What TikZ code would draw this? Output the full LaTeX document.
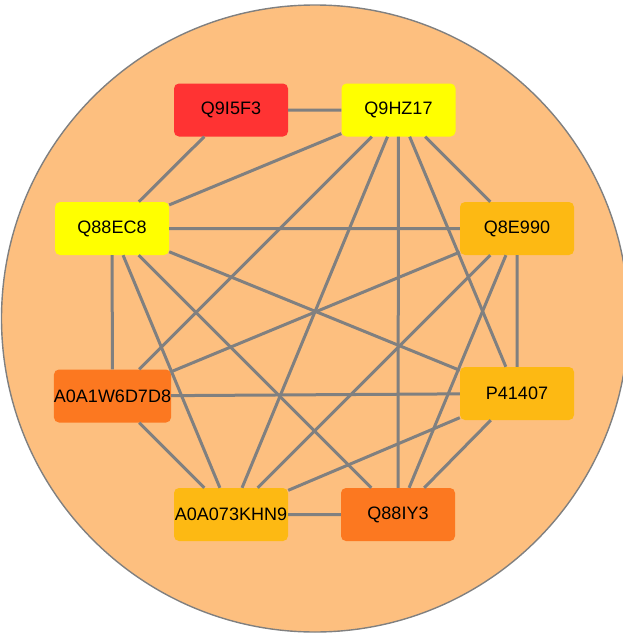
\documentclass[tikz,border=0pt]{standalone}
\usepackage{fontspec}
\setmainfont{Liberation Sans}
\definecolor{clusterfill}{RGB}{253,191,127}
\definecolor{linkgray}{RGB}{128,128,128}
\definecolor{hubred}{RGB}{255,51,51}
\definecolor{hubyellow}{RGB}{255,255,0}
\definecolor{hubamber}{RGB}{253,185,19}
\definecolor{huborange}{RGB}{252,120,32}
\begin{document}
\begin{tikzpicture}[x=1pt,y=-1pt,
  prot/.style={rectangle,rounded corners=5pt,minimum width=114pt,minimum height=53pt,
    inner xsep=0pt,font=\fontsize{18}{20}\selectfont},
  link/.style={draw=linkgray,line width=3pt}]
\useasboundingbox (0,0) rectangle (623,635);
%%% The cluster behind the network
\draw[fill=clusterfill,draw=linkgray,line width=1.4pt] (315,318.5) circle (313.5pt);
%
\node[prot,fill=hubred]    (q9i5f3) at (231,110)   {Q9I5F3};
\node[prot,fill=hubyellow] (q9hz17) at (398.5,110) {Q9HZ17};
\node[prot,fill=hubyellow] (q88ec8) at (112,228.5) {Q88EC8};
\node[prot,fill=hubamber]  (q8e990) at (517,228.5) {Q8E990};
\node[prot,fill=huborange] (a0a1w6) at (112.5,396) {A0A1W6D7D8};
\node[prot,fill=hubamber]  (p41407) at (517,393.5) {P41407};
\node[prot,fill=hubamber]  (a0a073) at (231,514.5) {A0A073KHN9};
\node[prot,fill=huborange] (q88iy3) at (398,514.5) {Q88IY3};
%%% The interactions
\draw[link] (q9i5f3) -- (q9hz17) (q9i5f3) -- (q88ec8);
\draw[link] (q9hz17) -- (q88ec8) (q9hz17) -- (a0a1w6) (q9hz17) -- (a0a073)
  (q9hz17) -- (q88iy3) (q9hz17) -- (p41407) (q9hz17) -- (q8e990);
\draw[link] (q88ec8) -- (q8e990) (q88ec8) -- (a0a1w6) (q88ec8) -- (a0a073)
  (q88ec8) -- (q88iy3) (q88ec8) -- (p41407);
\draw[link] (q8e990) -- (a0a1w6) (q8e990) -- (a0a073) (q8e990) -- (q88iy3)
  (q8e990) -- (p41407);
\draw[link] (a0a1w6) -- (p41407) (a0a1w6) -- (a0a073);
\draw[link] (a0a073) -- (p41407) (a0a073) -- (q88iy3) (p41407) -- (q88iy3);
\end{tikzpicture}
\end{document}
